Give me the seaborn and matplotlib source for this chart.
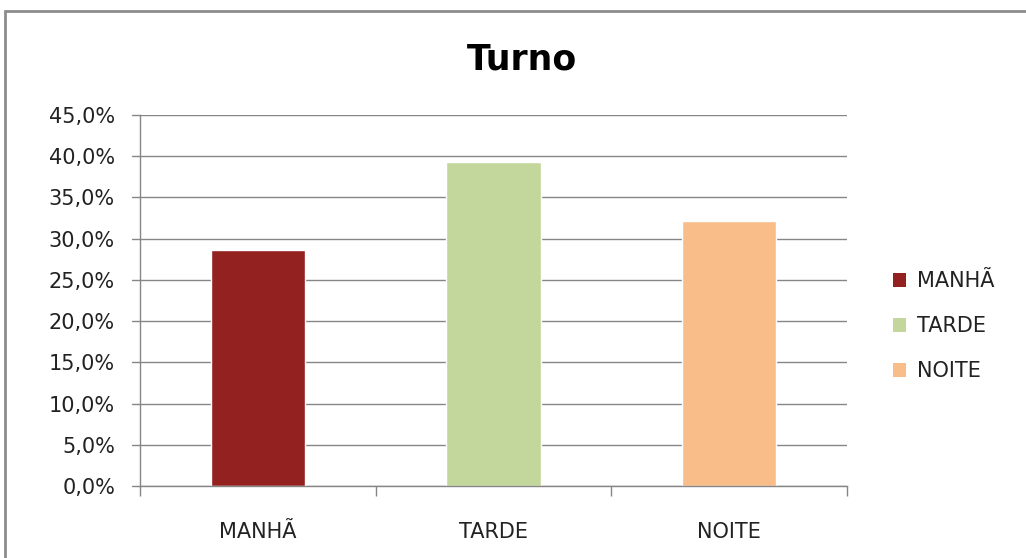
import matplotlib
matplotlib.use("Agg")
import matplotlib.pyplot as plt
import seaborn as sns
import pandas as pd
from matplotlib.patches import Rectangle, Patch

categories = ["MANHÃ", "TARDE", "NOITE"]
values = [28.6, 39.3, 32.1]
colors = ["#922120", "#C3D69B", "#F9BD8A"]
yticks = [0, 5, 10, 15, 20, 25, 30, 35, 40, 45]

sns.set_style("white")
plt.rcParams["font.family"] = ["DejaVu Sans"]

df = pd.DataFrame({"turno": categories, "pct": values})

fig = plt.figure(figsize=(10.26, 5.58), dpi=100)
ax = fig.add_axes([140/1026, (558-486)/558, (847-140)/1026, (486-115)/558])

sns.barplot(data=df, x="turno", y="pct", hue="turno", palette=colors,
            width=0.4, legend=False, ax=ax, saturation=1)

ax.set_ylim(0, 45)
ax.set_xlim(-0.5, 2.5)
ax.set_yticks(yticks)
ax.set_yticklabels([f"{t:.1f}%".replace(".", ",") for t in yticks], fontsize=15, color="#222222")
ax.set_xticks([0, 1, 2])
ax.set_xticklabels(categories, fontsize=15, color="#222222")
ax.tick_params(axis="x", which="major", length=0, pad=26, bottom=False)
ax.tick_params(axis="y", length=0, pad=18)
ax.set_xticks([-0.5, 0.5, 1.5, 2.5], minor=True)
ax.tick_params(axis="x", which="minor", bottom=True, length=7, color="#868686",
               width=1, direction="out")
for t in yticks:
    ax.plot([-0.535, -0.5], [t, t], color="#868686", lw=1, clip_on=False, zorder=3)
ax.set_xlabel("")
ax.set_ylabel("")
ax.yaxis.grid(True, color="#868686", lw=1)
ax.set_axisbelow(True)
for s in ["top", "right"]:
    ax.spines[s].set_visible(False)
for s in ["left", "bottom"]:
    ax.spines[s].set_color("#868686")
    ax.spines[s].set_linewidth(1)

fig.text(522/1026, 1 - 60/558, "Turno", ha="center", va="center",
         fontsize=25, fontweight="bold", color="#000000")

handles = [Patch(facecolor=c, edgecolor="none") for c in colors]
leg = fig.legend(handles, categories, loc="center left",
                 bbox_to_anchor=(874/1026, 1 - 326/558), frameon=False,
                 prop={"size": 15},
                 handlelength=0.65, handleheight=0.65, handletextpad=0.5,
                 labelspacing=1.2)
for t in leg.get_texts():
    t.set_color("#222222")

fig.patches.append(Rectangle((5/1026, -0.1), 1.2, 1 - 11/558 + 0.1, transform=fig.transFigure,
                             fill=False, edgecolor="#8c8c8c", lw=2, zorder=10))

fig.savefig("out.png", dpi=100)
